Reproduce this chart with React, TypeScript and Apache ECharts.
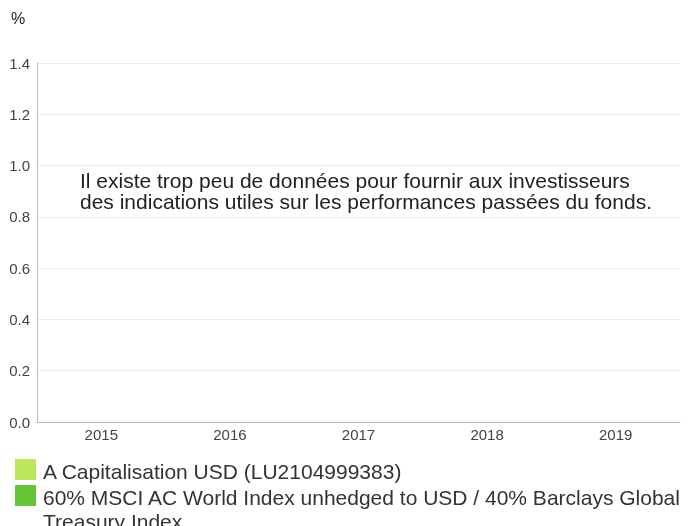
import React, { useEffect, useRef } from "react";
import * as echarts from "echarts";

const categories = ["2015", "2016", "2017", "2018", "2019"];
const fundValues: (number | null)[] = [];
const benchmarkValues: (number | null)[] = [];
const seriesNames = [
  "A Capitalisation USD (LU2104999383)",
  "60% MSCI AC World Index unhedged to USD / 40% Barclays Global Treasury Index",
];
const seriesColors = ["#bde65a", "#66c536"];
const unitLabel = "%";
const message =
  "Il existe trop peu de données pour fournir aux investisseurs\ndes indications utiles sur les performances passées du fonds.";

export default function App() {
  const ref = useRef<HTMLDivElement>(null);
  useEffect(() => {
    if (!ref.current) return;
    const chart = echarts.init(ref.current, undefined, { renderer: "svg" });
    const font = "'Liberation Sans', Arial, sans-serif";

    const legendTops = [459, 485];
    const legendGraphics: any[] = [];
    seriesNames.forEach((name, i) => {
      legendGraphics.push({
        type: "rect",
        left: 15,
        top: legendTops[i],
        shape: { width: 21, height: 21 },
        style: { fill: seriesColors[i] },
      });
      legendGraphics.push({
        type: "text",
        x: 43,
        y: legendTops[i],
        style: {
          text: name,
          fontSize: 21,
          lineHeight: 24,
          fill: "#333",
          fontFamily: font,
          width: 660,
          overflow: "break",
          verticalAlign: "top",
        },
      });
    });

    chart.setOption({
      animation: false,
      textStyle: { fontFamily: font },
      grid: { left: 37, right: 9, top: 63, bottom: 104, containLabel: false },
      xAxis: {
        type: "category",
        data: categories,
        axisLine: { lineStyle: { color: "#bbb" } },
        axisTick: { show: false },
        axisLabel: { color: "#444", fontSize: 15, margin: 5, fontFamily: font },
      },
      yAxis: {
        type: "value",
        min: 0,
        max: 1.4,
        interval: 0.2,
        axisLine: { show: true, lineStyle: { color: "#bbb" } },
        axisTick: { show: false },
        axisLabel: {
          color: "#444",
          fontSize: 15,
          margin: 7,
          fontFamily: font,
          formatter: (v: number) => v.toFixed(1),
        },
        splitLine: { lineStyle: { color: "#ececec" } },
      },
      series: [
        { name: seriesNames[0], type: "bar", data: fundValues, itemStyle: { color: seriesColors[0] } },
        { name: seriesNames[1], type: "bar", data: benchmarkValues, itemStyle: { color: seriesColors[1] } },
      ],
      graphic: [
        {
          type: "text",
          x: 11,
          y: 18.5,
          style: {
            text: unitLabel,
            fontSize: 16,
            fill: "#222",
            fontFamily: font,
            verticalAlign: "middle",
          },
        },
        {
          type: "text",
          x: 80,
          y: 170,
          style: {
            text: message,
            fontSize: 21,
            lineHeight: 21,
            fill: "#222",
            fontFamily: font,
            verticalAlign: "top",
          },
        },
        ...legendGraphics,
      ],
    });
    return () => chart.dispose();
  }, []);
  return (
    <div
      ref={ref}
      style={{ position: "fixed", left: 0, top: 0, width: 689, height: 526 }}
    />
  );
}
